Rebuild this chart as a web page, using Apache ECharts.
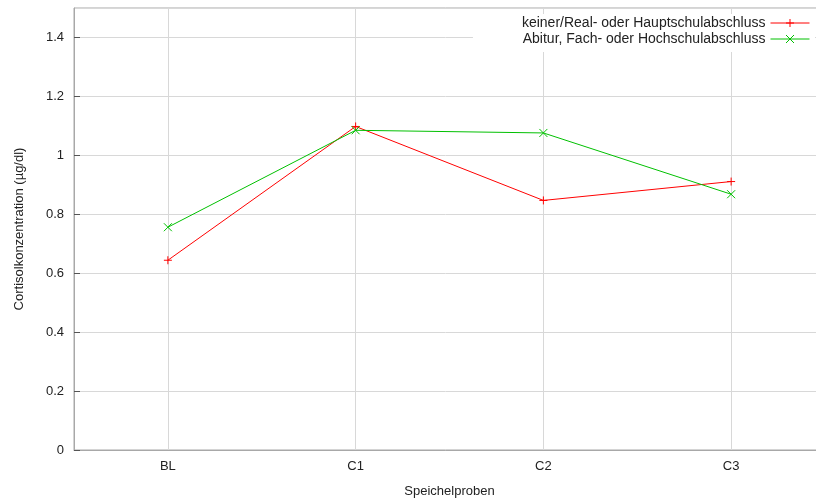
<!DOCTYPE html>
<html>
<head>
<meta charset="utf-8">
<script src="https://cdn.jsdelivr.net/npm/echarts@6/dist/echarts.min.js"></script>
<style>
html,body{margin:0;padding:0;background:#fff;}
#chart{width:816px;height:499px;}
</style>
</head>
<body>
<div id="chart"></div>
<script>
const categories = ['BL', 'C1', 'C2', 'C3'];
const seriesNames = ['keiner/Real- oder Hauptschulabschluss', 'Abitur, Fach- oder Hochschulabschluss'];
const lowEdu = [0.644, 1.098, 0.847, 0.911];
const highEdu = [0.756, 1.085, 1.076, 0.868];
const yTicks = [0, 0.2, 0.4, 0.6, 0.8, 1, 1.2, 1.4];

const FONT = 'Liberation Sans';
const plusPath = 'path://M0,5L10,5M5,0L5,10';
const crossPath = 'path://M0,0L10,10M0,10L10,0';

const chart = echarts.init(document.getElementById('chart'), null, {renderer: 'canvas'});
chart.setOption({
  animation: false,
  textStyle: {fontFamily: FONT},
  grid: {left: 74, top: 8, right: -9, bottom: 49, outerBoundsMode: 'none', containLabel: false,
    show: true, borderColor: '#a8a8a8', borderWidth: 1, backgroundColor: 'transparent'},
  legend: {
    orient: 'vertical', right: 1, top: 14, align: 'right',
    padding: [2, 5, 6, 49], backgroundColor: '#ffffff',
    itemWidth: 39, itemHeight: 10, itemGap: 2,
    lineStyle: {width: 1},
    itemStyle: {borderWidth: 1},
    textStyle: {fontFamily: FONT, fontSize: 14, color: '#222'},
    data: seriesNames
  },
  xAxis: [{
    type: 'category', data: categories, boundaryGap: true, position: 'bottom',
    name: 'Speichelproben', nameLocation: 'middle', nameGap: 35,
    nameTextStyle: {fontFamily: FONT, fontSize: 13, color: '#222'},
    axisLine: {lineStyle: {color: '#a8a8a8'}},
    axisTick: {inside: true, alignWithLabel: true, length: 6, lineStyle: {color: '#555'}},
    axisLabel: {margin: 10, fontFamily: FONT, fontSize: 13, color: '#222'},
    splitLine: {show: true, alignWithLabel: true, lineStyle: {color: '#d8d8d8'}}
  }, {
    type: 'category', data: categories, boundaryGap: true, position: 'top',
    axisLine: {show: false},
    axisTick: {inside: true, alignWithLabel: true, length: 6, lineStyle: {color: '#555'}},
    axisLabel: {show: false},
    splitLine: {show: false}
  }],
  yAxis: {
    type: 'value', min: 0, max: 1.5, interval: 0.2,
    name: 'Cortisolkonzentration (µg/dl)', nameLocation: 'middle', nameGap: 48,
    nameTextStyle: {fontFamily: FONT, fontSize: 13, color: '#222'},
    axisLine: {show: true, lineStyle: {color: '#a8a8a8'}},
    axisTick: {show: true, inside: true, length: 6, lineStyle: {color: '#555'}},
    axisLabel: {margin: 10, fontFamily: FONT, fontSize: 13, color: '#222', showMaxLabel: false,
      formatter: function (v) { return yTicks.indexOf(Math.round(v * 10) / 10) >= 0 ? String(Math.round(v * 10) / 10) : ''; }},
    splitLine: {show: true, lineStyle: {color: '#d8d8d8'}}
  },
  series: [{
    name: seriesNames[0], type: 'line', data: lowEdu,
    symbol: plusPath, symbolSize: 8, showAllSymbol: true,
    lineStyle: {color: '#ff0000', width: 1},
    itemStyle: {color: '#ff0000', borderColor: '#ff0000', borderWidth: 1},
    emphasis: {disabled: true}
  }, {
    name: seriesNames[1], type: 'line', data: highEdu,
    symbol: crossPath, symbolSize: 8, showAllSymbol: true,
    lineStyle: {color: '#00c000', width: 1},
    itemStyle: {color: '#00c000', borderColor: '#00c000', borderWidth: 1},
    emphasis: {disabled: true}
  }]
});
</script>
</body>
</html>
